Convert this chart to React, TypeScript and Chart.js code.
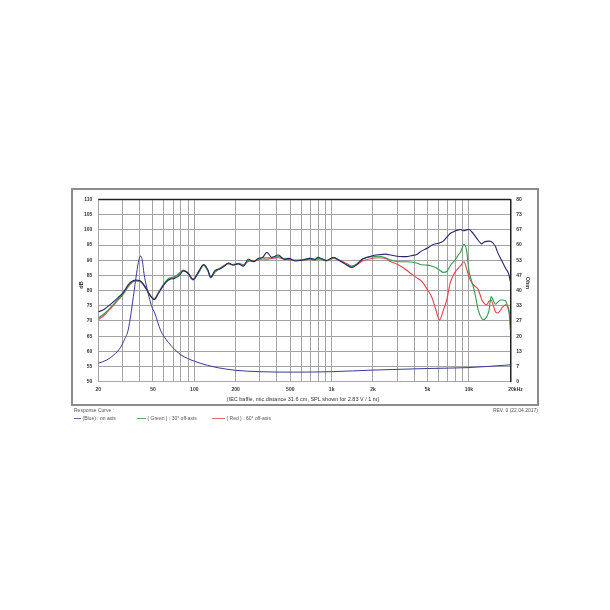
import React, { useEffect, useRef } from "react";
import { Chart, registerables } from "chart.js";
Chart.register(...registerables);

// Frequencies (Hz) for the SPL curves
const splFreq = [20, 22, 25, 28, 30, 34, 37.5, 40, 44, 47.5, 51, 55, 60, 65, 72, 78, 83, 90, 98, 108, 117, 125, 132, 141, 154, 165, 177, 191, 209, 228, 247, 270, 292, 315, 338, 366, 410, 450, 490, 540, 620, 694, 756, 794, 850, 913, 1030, 1140, 1250, 1400, 1530, 1680, 1950, 2200, 2470, 2700, 3000, 3300, 3500, 3800, 4200, 4500, 5000, 5400, 5700, 6100, 6500, 6900, 7300, 7900, 8400, 8700, 9200, 9600, 10000, 10500, 11000, 11700, 12400, 12700, 13400, 14000, 14500, 15000, 15600, 16200, 17000, 17500, 18500, 19500, 20000];

// SPL (dB) on axis
const blueSPL = [73.0, 73.8, 75.8, 77.8, 79.1, 82.6, 83.5, 83.3, 81.2, 78.6, 77.0, 79.2, 81.9, 83.5, 84.1, 85.0, 86.5, 85.8, 83.6, 86.5, 88.6, 87.0, 84.4, 86.6, 87.2, 88.0, 89.1, 88.4, 88.8, 88.0, 90.3, 89.5, 90.6, 91.0, 92.6, 91.0, 91.7, 90.3, 90.6, 89.8, 90.1, 90.6, 90.3, 91.0, 90.5, 89.9, 91.0, 89.9, 88.8, 87.6, 88.6, 90.4, 91.4, 91.8, 92.0, 91.7, 91.3, 91.2, 91.2, 91.5, 92.0, 93.0, 94.0, 95.0, 95.4, 95.7, 96.3, 97.6, 98.8, 99.6, 100.0, 100.1, 99.7, 100.0, 100.1, 99.3, 98.2, 96.5, 95.4, 95.8, 96.2, 96.3, 96.2, 95.6, 94.5, 92.5, 90.6, 89.5, 87.3, 85.4, 83.0];

// SPL (dB) 30° off axis
const greenSPL = [71.0, 72.3, 74.8, 77.2, 78.6, 82.2, 83.3, 83.2, 81.0, 78.4, 77.2, 79.5, 82.2, 84.0, 84.6, 85.5, 86.6, 85.6, 83.5, 86.2, 88.4, 86.7, 84.2, 86.2, 87.2, 88.2, 89.0, 88.5, 88.9, 88.3, 90.0, 89.6, 90.4, 90.8, 90.8, 90.8, 91.2, 90.5, 90.3, 90.0, 90.2, 90.6, 90.0, 90.6, 90.4, 89.9, 90.8, 89.9, 88.8, 87.8, 88.9, 90.4, 91.2, 91.3, 90.8, 90.1, 89.6, 89.5, 89.5, 89.4, 89.0, 88.5, 88.4, 88.0, 87.6, 86.8, 86.0, 86.3, 88.2, 90.0, 91.8, 92.8, 95.2, 93.4, 86.5, 82.9, 79.5, 73.5, 70.8, 70.4, 71.2, 73.5, 78.0, 76.8, 75.5, 76.2, 76.9, 76.9, 76.6, 73.2, 71.5];

// SPL (dB) 60° off axis
const redSPL = [70.5, 71.8, 74.5, 77.0, 78.5, 82.0, 83.2, 83.1, 81.0, 78.6, 77.4, 79.3, 82.0, 83.7, 84.5, 85.8, 86.8, 85.8, 83.8, 86.0, 88.3, 86.8, 84.5, 86.0, 87.4, 88.3, 88.8, 88.6, 89.0, 88.5, 89.6, 89.8, 90.1, 90.4, 90.3, 90.6, 90.8, 90.4, 90.2, 90.0, 90.1, 90.3, 90.0, 90.4, 90.3, 89.8, 90.6, 90.0, 89.2, 88.1, 88.6, 89.8, 90.6, 90.8, 90.6, 89.5, 88.7, 87.6, 86.8, 85.5, 84.1, 83.2, 80.2, 77.5, 74.2, 70.3, 73.5, 77.0, 82.5, 86.0, 87.5, 88.2, 89.5, 87.3, 84.5, 82.5, 81.5, 80.3, 77.0, 76.2, 75.3, 76.5, 76.8, 75.3, 73.0, 72.6, 73.6, 74.5, 75.3, 73.8, 67.0];

// Impedance curve (Ohm)
const impFreq = [20, 23, 26, 29, 31, 33, 34.6, 36, 38, 39.5, 40.7, 42, 43, 45, 46.8, 49, 51.6, 56.7, 60, 70, 80, 100, 125, 150, 200, 300, 500, 1000, 2000, 5000, 10000, 20000];
const impOhm = [8.1, 9.5, 11.8, 15.0, 18.5, 22.7, 30.0, 37.3, 47.6, 53.5, 55.2, 52.5, 47.6, 41.5, 37.3, 33.0, 30.0, 22.7, 20.0, 14.9, 11.8, 9.0, 7.2, 6.1, 5.0, 4.4, 4.2, 4.4, 5.1, 5.8, 6.2, 7.4];

// Green baseline trace along the bottom
const baseFreq = [20, 3300];
const baseLevel = [50, 50];

// Axes
const gridFreqs = [20, 30, 40, 50, 60, 70, 80, 90, 100, 200, 300, 400, 500, 600, 700, 800, 900, 1000, 2000, 3000, 4000, 5000, 6000, 7000, 8000, 9000, 10000, 20000];
const xTickFreqs = [20, 50, 100, 200, 500, 1000, 2000, 5000, 10000, 20000];
const xTickLabels = ["20", "50", "100", "200", "500", "1k", "2k", "5k", "10k", "20kHz"];
const dbTicks = [50, 55, 60, 65, 70, 75, 80, 85, 90, 95, 100, 105, 110];
const ohmTickLabels = [0, 7, 13, 20, 27, 33, 40, 47, 53, 60, 67, 73, 80];

const BLUE = "#26266e";
const GREEN = "#2f9e48";
const RED = "#e4434c";
const IMP = "#3a3aa0";
const FONT = "'Liberation Sans', Arial, sans-serif";

const pts = (xs: number[], ys: number[]) => xs.map((x, i) => ({ x, y: ys[i] }));

const decorPlugin = {
  id: "decor",
  beforeDraw(chart: any) {
    const ctx = chart.ctx;
    ctx.save();
    ctx.fillStyle = "#fff";
    ctx.fillRect(0, 0, chart.width, chart.height);
    ctx.restore();
  },
  afterDraw(chart: any) {
    const ctx = chart.ctx;
    const ca = chart.chartArea;
    const xs = chart.scales.x;
    ctx.save();
    // outer frame
    ctx.strokeStyle = "#8c8c8c";
    ctx.lineWidth = 2;
    ctx.strokeRect(72, 189, 466, 216);
    // top border of plot
    ctx.strokeStyle = "#222";
    ctx.lineWidth = 1.5;
    ctx.beginPath();
    ctx.moveTo(ca.left, ca.top);
    ctx.lineTo(ca.right, ca.top);
    ctx.stroke();
    // x tick labels
    ctx.fillStyle = "#333";
    ctx.font = `bold 5px ${FONT}`;
    ctx.textBaseline = "middle";
    xTickFreqs.forEach((f, i) => {
      const px = xs.getPixelForValue(f);
      if (i === xTickFreqs.length - 1) {
        ctx.textAlign = "left";
        ctx.fillText(xTickLabels[i], px - 2, 390);
      } else {
        ctx.textAlign = "center";
        ctx.fillText(xTickLabels[i], px, 390);
      }
    });
    // axis titles
    ctx.font = `bold 5.5px ${FONT}`;
    ctx.textAlign = "center";
    ctx.save();
    ctx.translate(81, 285);
    ctx.rotate(-Math.PI / 2);
    ctx.fillText("dB", 0, 0);
    ctx.restore();
    ctx.save();
    ctx.translate(528, 283);
    ctx.rotate(Math.PI / 2);
    ctx.fillText("Ohm", 0, 0);
    ctx.restore();
    // caption
    ctx.font = `5.5px ${FONT}`;
    ctx.fillStyle = "#333";
    ctx.textAlign = "center";
    ctx.fillText("(IEC baffle, mic.distance 31.6 cm, SPL shown for 2.83 V / 1 m)", 303, 399);
    // response curve legend
    ctx.font = `5px ${FONT}`;
    ctx.fillStyle = "#555";
    ctx.textAlign = "left";
    ctx.fillText("Response Curve :", 74, 411);
    ctx.textAlign = "right";
    ctx.fillText("REV. 0 (22.04.2017)", 538, 411);
    ctx.textAlign = "left";
    const items = [
      { c: IMP, x0: 74, x1: 81, t: "(Blue) : on axis" },
      { c: GREEN, x0: 137, x1: 146, t: "( Green ) : 30° off-axis" },
      { c: RED, x0: 212, x1: 225, t: "( Red ) : 60° off-axis" },
    ];
    items.forEach((it) => {
      ctx.strokeStyle = it.c;
      ctx.lineWidth = 0.8;
      ctx.beginPath();
      ctx.moveTo(it.x0, 418.5);
      ctx.lineTo(it.x1, 418.5);
      ctx.stroke();
      ctx.fillText(it.t, it.x1 + 1.5, 418.5);
    });
    ctx.restore();
  },
};

export default function App() {
  const ref = useRef<HTMLCanvasElement>(null);
  useEffect(() => {
    if (!ref.current) return;
    const lineDs = (label: string, data: any[], color: string, axis = "y", w = 1.1) => ({
      label,
      data,
      borderColor: color,
      backgroundColor: color,
      borderWidth: w,
      pointRadius: 0,
      fill: false,
      cubicInterpolationMode: "monotone" as const,
      yAxisID: axis,
    });
    const chart = new Chart(ref.current, {
      type: "line",
      data: {
        datasets: [
          lineDs("Blue on axis", pts(splFreq, blueSPL), BLUE),
          lineDs("Green 30°", pts(splFreq, greenSPL), GREEN),
          lineDs("Red 60°", pts(splFreq, redSPL), RED),
          lineDs("Impedance", pts(impFreq, impOhm), IMP, "y2", 1.0),
          lineDs("Baseline", pts(baseFreq, baseLevel), "#7fcf7f", "y", 1.2),
        ],
      },
      options: {
        animation: false,
        responsive: false,
        parsing: true,
        layout: { padding: { left: 68.3, right: 69.7, top: 199.5, bottom: 228.3 } },
        plugins: { legend: { display: false }, tooltip: { enabled: false } },
        scales: {
          x: {
            type: "logarithmic",
            min: 20,
            max: 20000,
            afterBuildTicks: (s: any) => {
              s.ticks = gridFreqs.map((v) => ({ value: v }));
            },
            afterFit: (s: any) => {
              s.height = 0;
            },
            ticks: { display: false },
            grid: { color: "#a3a3a3", lineWidth: 1, drawTicks: false },
            border: { display: false },
          },
          y: {
            type: "linear",
            position: "left",
            min: 50,
            max: 110,
            afterBuildTicks: (s: any) => {
              s.ticks = dbTicks.map((v) => ({ value: v }));
            },
            afterFit: (s: any) => {
              s.width = 30;
            },
            ticks: {
              padding: 6,
              color: "#333",
              font: { family: FONT, size: 5, weight: "bold" },
            },
            grid: { color: "#a3a3a3", lineWidth: 1, drawTicks: false },
            border: { display: false },
          },
          y2: {
            type: "linear",
            position: "right",
            min: 0,
            max: 80,
            afterBuildTicks: (s: any) => {
              s.ticks = ohmTickLabels.map((_, i) => ({ value: (i * 80) / 12 }));
            },
            afterFit: (s: any) => {
              s.width = 30;
            },
            ticks: {
              padding: 6,
              color: "#333",
              font: { family: FONT, size: 5, weight: "bold" },
              callback: (_v: any, i: number) => String(ohmTickLabels[i]),
            },
            grid: { drawOnChartArea: false, drawTicks: false },
            border: { display: true, color: "#222", width: 1.5 },
          },
        },
      },
      plugins: [decorPlugin],
    });
    return () => chart.destroy();
  }, []);
  return (
    <div style={{ position: "fixed", left: 0, top: 0, width: 610, height: 610, background: "#fff" }}>
      <canvas ref={ref} width={610} height={610} style={{ width: 610, height: 610 }} />
    </div>
  );
}
